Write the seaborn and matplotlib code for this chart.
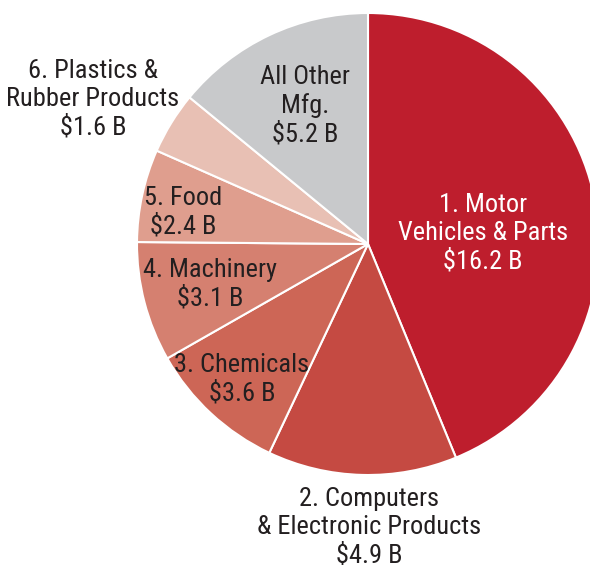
import matplotlib
matplotlib.use("Agg")
import matplotlib.pyplot as plt
import seaborn as sns

sns.set_style("white")
plt.rcParams['font.family'] = ['Roboto Condensed', 'DejaVu Sans']

# data: output in billions of dollars, clockwise from top
industries = ["1. Motor\nVehicles & Parts", "2. Computers\n& Electronic Products",
              "3. Chemicals", "4. Machinery", "5. Food",
              "6. Plastics &\nRubber Products", "All Other\nMfg."]
values = [16.2, 4.9, 3.6, 3.1, 2.4, 1.6, 5.2]

colors = ["#BE1E2D", "#C54A42", "#CD6656", "#D58070", "#DF9E8E", "#E8C0B4", "#C8C9CB"]

# label centres in pixels (x, y from top) and text colour
label_pos = [(483, 233), (369, 527), (242, 379), (210, 284), (183, 212), (93, 99), (305, 106)]
label_col = ["white", "#231F20", "#231F20", "#231F20", "#231F20", "#231F20", "#231F20"]

W, H = 590, 565
fig = plt.figure(figsize=(W / 100, H / 100), dpi=100)
ax = fig.add_axes([0, 0, 1, 1])

ax.pie(values, colors=colors, startangle=90, counterclock=False,
       center=(368, H - 244), radius=231,
       wedgeprops=dict(edgecolor="white", linewidth=1.5))
ax.set_xlim(0, W)
ax.set_ylim(0, H)
ax.set_aspect("equal")
ax.axis("off")

for name, v, (px, py), c in zip(industries, values, label_pos, label_col):
    ax.text(px, H - py, "{}\n${} B".format(name, v), ha="center", va="center",
            fontsize=19, color=c, linespacing=1.2)

fig.savefig("out.png", dpi=100)
